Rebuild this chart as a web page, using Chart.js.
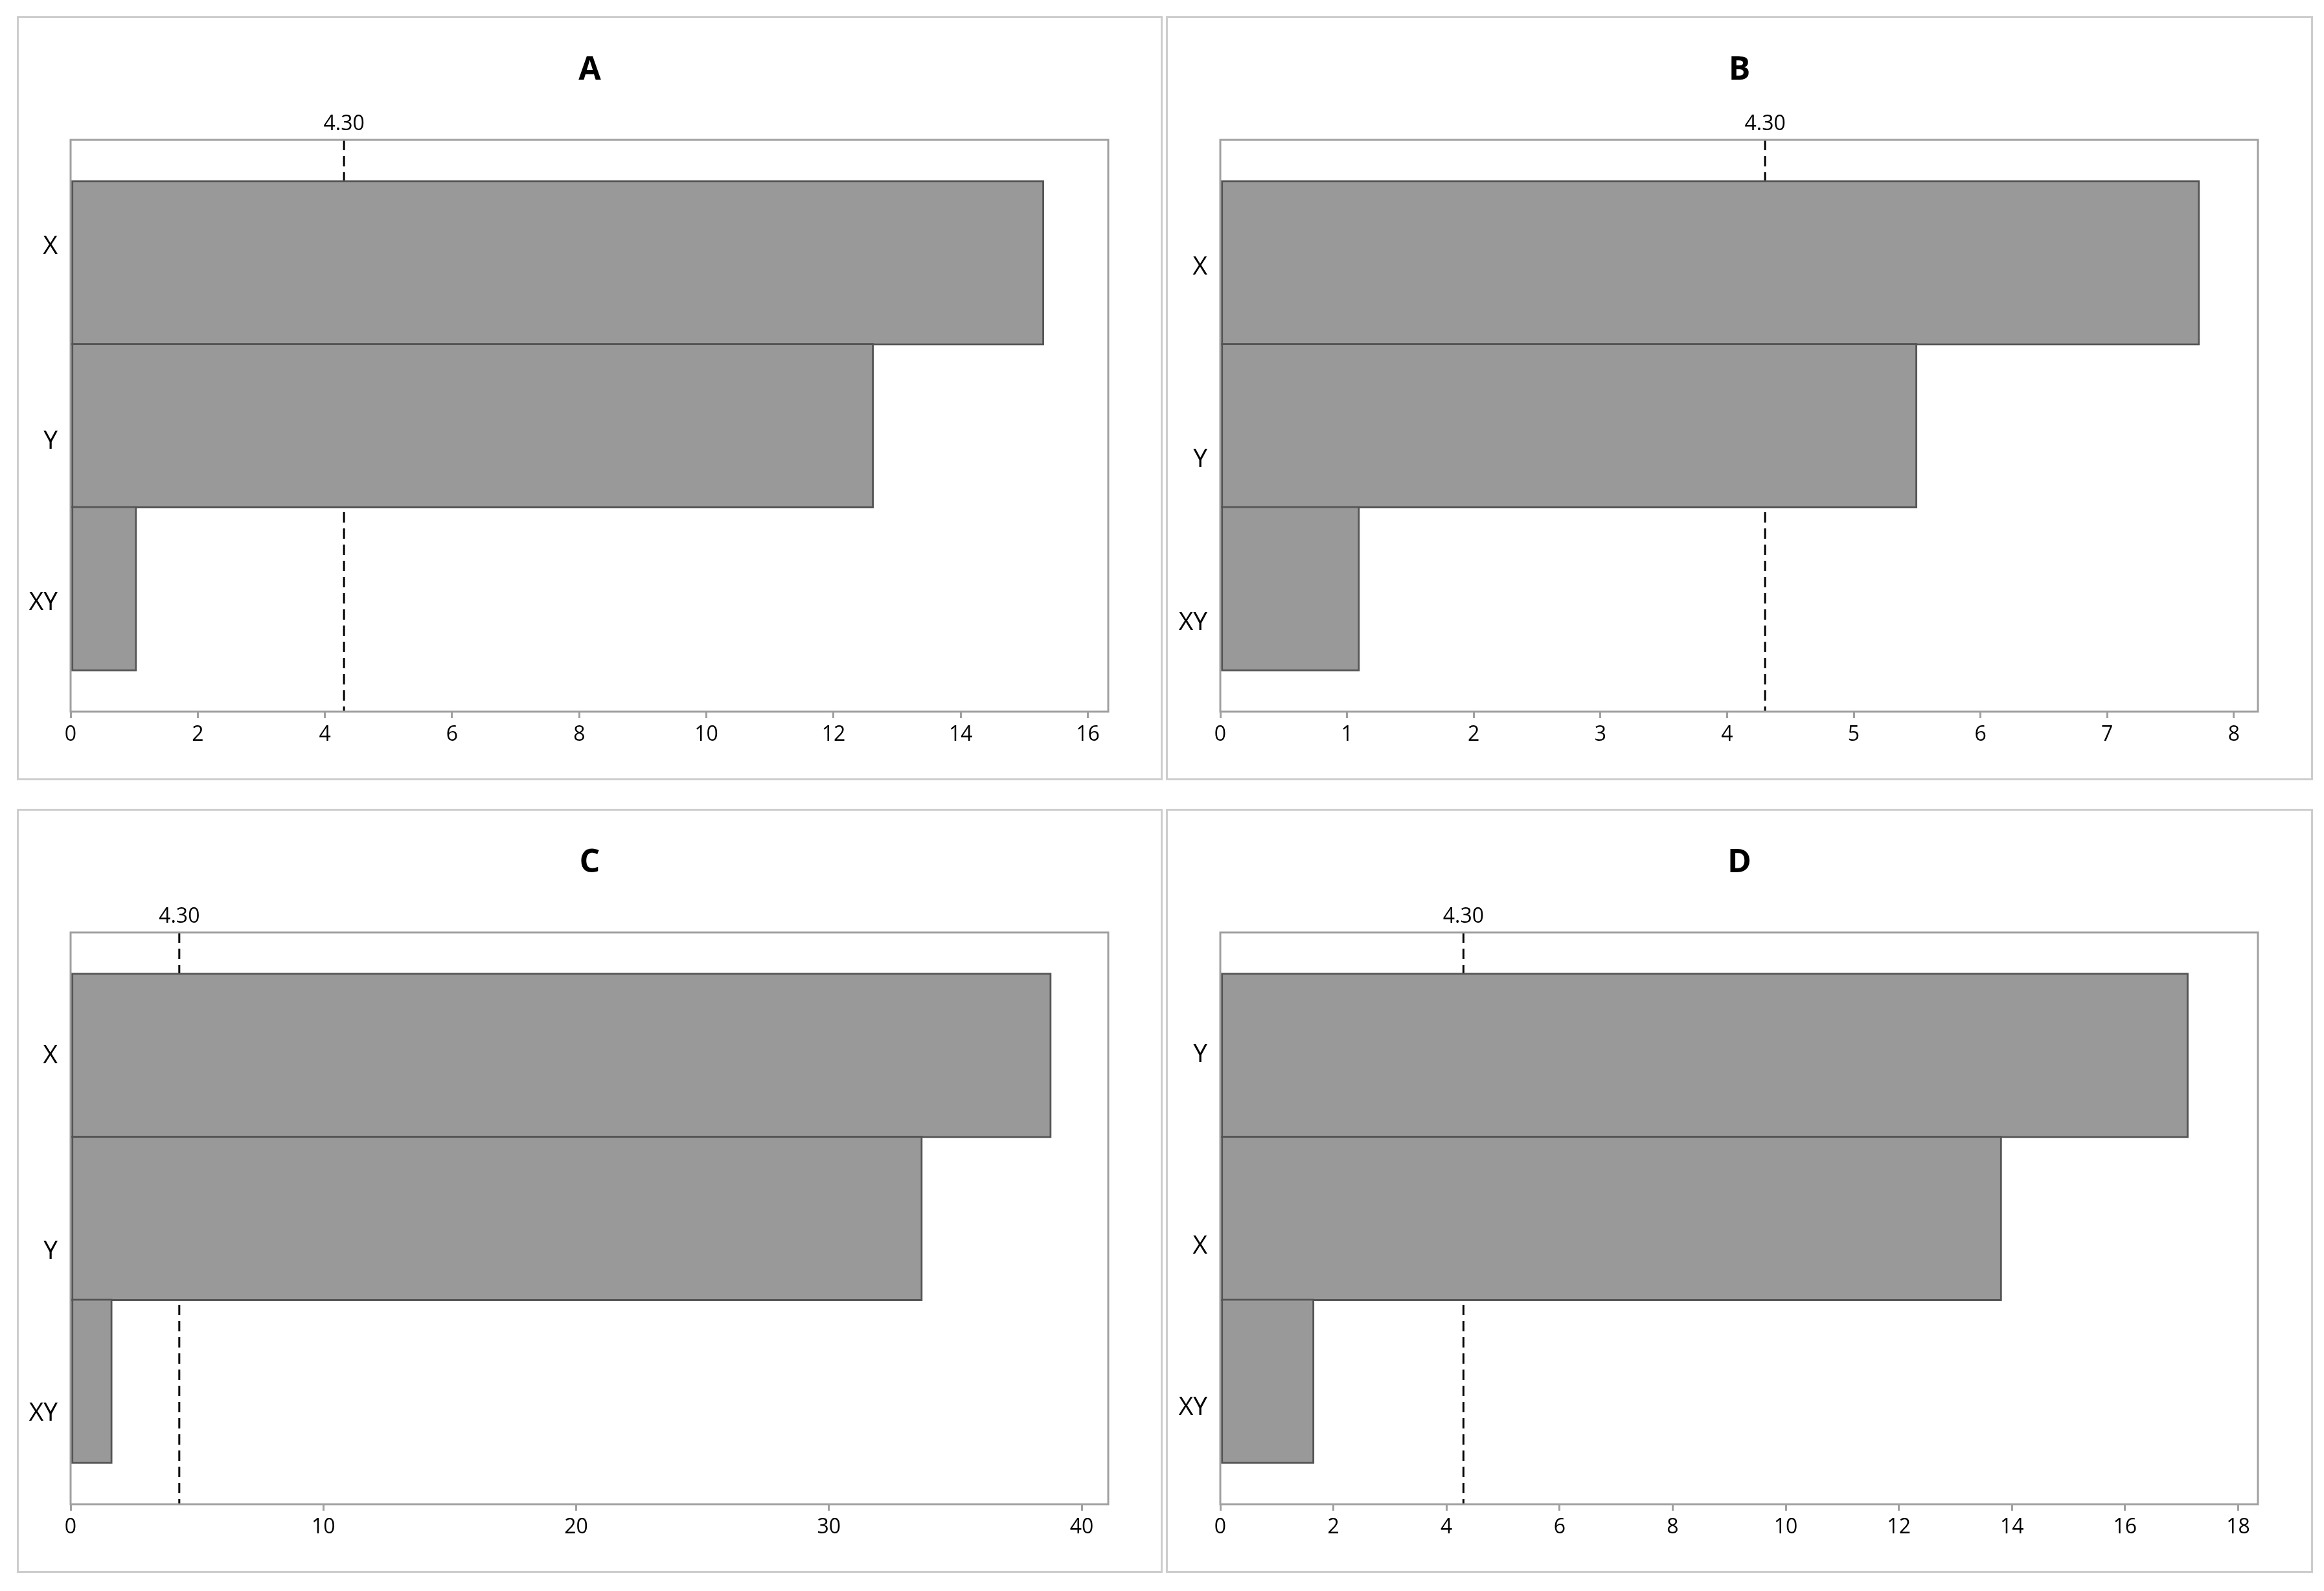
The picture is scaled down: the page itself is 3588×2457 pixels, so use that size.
<!DOCTYPE html>
<html>
<head>
<meta charset="utf-8">
<script src="https://cdn.jsdelivr.net/npm/chart.js@4.4.1/dist/chart.umd.min.js"></script>
<style>
  html, body { margin: 0; padding: 0; background: #ffffff; width: 3588px; height: 2457px; overflow: hidden; }
  .frame { position: absolute; box-sizing: border-box; border: 3px solid #cdcdcd; }
  canvas { position: absolute; }
</style>
</head>
<body>
<div class="frame" style="left:26px;top:25px;width:1769px;height:1180px"></div>
<div class="frame" style="left:1800px;top:25px;width:1771px;height:1180px"></div>
<div class="frame" style="left:26px;top:1249px;width:1769px;height:1180px"></div>
<div class="frame" style="left:1800px;top:1249px;width:1771px;height:1180px"></div>
<canvas id="cA" width="1769" height="1180" style="left:26px;top:25px"></canvas>
<canvas id="cB" width="1771" height="1180" style="left:1800px;top:25px"></canvas>
<canvas id="cC" width="1769" height="1180" style="left:26px;top:1249px"></canvas>
<canvas id="cD" width="1771" height="1180" style="left:1800px;top:1249px"></canvas>
<script>
// ---------------- data ----------------
const titleA = 'A';
const categoriesA = ['X', 'Y', 'XY'];
const valuesA = [15.31, 12.63, 1.04];
const xTicksA = [0, 2, 4, 6, 8, 10, 12, 14, 16];
const xMaxA = 16.32;

const titleB = 'B';
const categoriesB = ['X', 'Y', 'XY'];
const valuesB = [7.73, 5.50, 1.10];
const xTicksB = [0, 1, 2, 3, 4, 5, 6, 7, 8];
const xMaxB = 8.19;

const titleC = 'C';
const categoriesC = ['X', 'Y', 'XY'];
const valuesC = [38.8, 33.7, 1.65];
const xTicksC = [0, 10, 20, 30, 40];
const xMaxC = 41.05;

const titleD = 'D';
const categoriesD = ['Y', 'X', 'XY'];
const valuesD = [17.12, 13.82, 1.66];
const xTicksD = [0, 2, 4, 6, 8, 10, 12, 14, 16, 18];
const xMaxD = 18.35;

const referenceValue = 4.30;
const referenceLabel = '4.30';

// ---------------- layout / style ----------------
const FONT = "'Open Sans', 'Noto Sans', 'DejaVu Sans', sans-serif";
const BAR_FILL = '#999999';
const BAR_EDGE = '#555555';
const FRAME = '#a0a0a0';
// category label positions along the (unit spaced) index axis, per panel
const labelSlots = {
  A: [0.90, 2.095, 3.087],
  B: [1.028, 2.209, 3.211],
  C: [1.005, 2.205, 3.197],
  D: [0.994, 2.174, 3.164]
};

const plotDecor = {
  id: 'plotDecor',
  beforeDatasetsDraw(chart, args, opts) {
    const { ctx, chartArea: a, scales } = chart;
    ctx.save();
    const xp = scales.x.getPixelForValue(opts.ref);
    ctx.strokeStyle = '#000000';
    ctx.lineWidth = 3;
    ctx.setLineDash([16, 9]);
    ctx.beginPath();
    ctx.moveTo(xp, a.top);
    ctx.lineTo(xp, a.bottom);
    ctx.stroke();
    ctx.setLineDash([]);
    ctx.strokeStyle = FRAME;
    ctx.lineWidth = 3;
    ctx.strokeRect(a.left, a.top, a.right - a.left, a.bottom - a.top);
    ctx.restore();
  }
};

function makePanel(canvasId, title, categories, values, xTicks, xMax, slots, leftAxisW, rightAxisW) {
  const points = values.map((v, i) => ({ x: v, y: i + 1 }));
  return new Chart(document.getElementById(canvasId), {
    type: 'bar',
    data: {
      datasets: [{
        data: points,
        backgroundColor: BAR_FILL,
        borderColor: BAR_EDGE,
        borderWidth: 3,
        borderSkipped: false,
        barThickness: 'flex',
        categoryPercentage: 1.012,
        barPercentage: 1
      }]
    },
    plugins: [plotDecor],
    options: {
      indexAxis: 'y',
      responsive: false,
      animation: false,
      devicePixelRatio: 1,
      layout: { padding: 0 },
      plugins: {
        legend: { display: false },
        tooltip: { enabled: false },
        title: {
          display: true,
          text: title,
          color: '#000000',
          font: { family: FONT, size: 50, weight: 'bold' },
          padding: { top: 53.3, bottom: 0 }
        },
        plotDecor: { ref: referenceValue }
      },
      scales: {
        x: {
          type: 'linear',
          position: 'bottom',
          min: 0,
          max: xMax,
          offset: false,
          afterBuildTicks: s => { s.ticks = xTicks.map(v => ({ value: v })); },
          afterFit: s => { s.height = 106; },
          grid: {
            display: true, drawOnChartArea: false, drawTicks: true,
            tickLength: 10, tickWidth: 3, tickColor: FRAME, color: FRAME, lineWidth: 3
          },
          border: { display: false },
          ticks: {
            color: '#000000', font: { family: FONT, size: 32 }, padding: 7,
            maxRotation: 0, autoSkip: false, includeBounds: false,
            callback: v => String(v)
          }
        },
        x2: {
          type: 'linear',
          axis: 'x',
          position: 'top',
          min: 0,
          max: xMax,
          offset: false,
          afterBuildTicks: s => { s.ticks = [{ value: referenceValue }]; },
          afterFit: s => { s.height = 77.7; },
          grid: { display: false, drawTicks: false },
          border: { display: false },
          ticks: {
            color: '#000000', font: { family: FONT, size: 32 }, padding: 5,
            maxRotation: 0, autoSkip: false, callback: () => referenceLabel
          }
        },
        y: {
          type: 'linear',
          reverse: true,
          min: 0.245,
          max: 3.755,
          offset: false,
          afterBuildTicks: s => { s.ticks = slots.map(v => ({ value: v })); },
          afterFit: s => { s.width = leftAxisW; },
          grid: { display: false, offset: false },
          border: { display: false },
          ticks: {
            color: '#000000', font: { family: FONT, size: 39 }, padding: 12,
            autoSkip: false, callback: (v, i) => categories[i]
          }
        },
        yRight: {
          type: 'linear',
          axis: 'y',
          position: 'right',
          min: 0,
          max: 1,
          offset: false,
          afterFit: s => { s.width = rightAxisW; },
          grid: { display: false },
          border: { display: false },
          ticks: { display: false }
        }
      }
    }
  });
}

makePanel('cA', titleA, categoriesA, valuesA, xTicksA, xMaxA, labelSlots.A, 83, 84);
makePanel('cB', titleB, categoriesB, valuesB, xTicksB, xMaxB, labelSlots.B, 84, 85);
makePanel('cC', titleC, categoriesC, valuesC, xTicksC, xMaxC, labelSlots.C, 83, 84);
makePanel('cD', titleD, categoriesD, valuesD, xTicksD, xMaxD, labelSlots.D, 84, 85);
</script>
</body>
</html>
